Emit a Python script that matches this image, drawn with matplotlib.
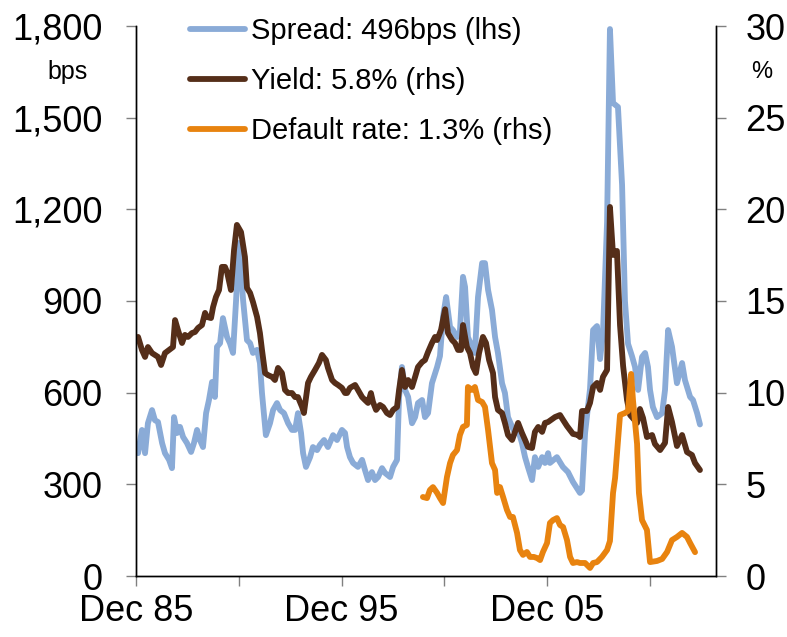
import numpy as np
import matplotlib
matplotlib.use("Agg")
import matplotlib.pyplot as plt
from matplotlib.ticker import FuncFormatter

plt.rcParams['font.family'] = ['Liberation Sans', 'DejaVu Sans']

# Spread (bps, left axis)
spread_year = [1986.02, 1986.21, 1986.36, 1986.50, 1986.70, 1986.84, 1986.99, 1987.19, 1987.33, 1987.53,
               1987.67, 1987.77, 1987.92, 1988.06, 1988.21, 1988.40, 1988.60, 1988.74, 1988.89, 1989.03,
               1989.18, 1989.33, 1989.47, 1989.62, 1989.76, 1989.86, 1990.01, 1990.15, 1990.35, 1990.49,
               1990.64, 1990.79, 1990.93, 1991.13, 1991.32, 1991.47, 1991.61, 1991.81, 1991.95, 1992.05,
               1992.24, 1992.44, 1992.59, 1992.78, 1992.93, 1993.12, 1993.32, 1993.51, 1993.66, 1993.80,
               1993.95, 1994.05, 1994.19, 1994.39, 1994.53, 1994.73, 1994.87, 1995.07, 1995.26, 1995.51,
               1995.70, 1995.94, 1996.09, 1996.19, 1996.33, 1996.48, 1996.72, 1996.92, 1997.06, 1997.21,
               1997.40, 1997.55, 1997.70, 1997.89, 1998.04, 1998.28, 1998.43, 1998.62, 1998.72, 1998.86,
               1999.01, 1999.16, 1999.35, 1999.50, 1999.64, 1999.84, 1999.98, 2000.13, 2000.32, 2000.57,
               2000.71, 2000.86, 2001.01, 2001.20, 2001.34, 2001.54, 2001.68, 2001.83, 2001.93, 2002.07,
               2002.27, 2002.41, 2002.56, 2002.76, 2002.90, 2003.05, 2003.24, 2003.39, 2003.53, 2003.73,
               2003.87, 2004.02, 2004.22, 2004.36, 2004.51, 2004.70, 2004.85, 2004.99, 2005.19, 2005.33,
               2005.49, 2005.68, 2005.82, 2005.97, 2006.06, 2006.40, 2006.69, 2006.94, 2007.18, 2007.52,
               2007.62, 2007.77, 2008.01, 2008.16, 2008.35, 2008.50, 2008.64, 2008.84, 2008.98, 2009.13,
               2009.37, 2009.57, 2009.71, 2009.86, 2010.05, 2010.20, 2010.35, 2010.54, 2010.69, 2010.83,
               2010.93, 2011.07, 2011.27, 2011.52, 2011.66, 2011.81, 2012.00, 2012.24, 2012.49, 2012.63,
               2012.88, 2013.02, 2013.22, 2013.36]
spread_bps = [402, 478, 402, 500, 543, 510, 504, 435, 402, 380,
              353, 520, 468, 488, 455, 435, 406, 435, 478, 445,
              422, 533, 576, 635, 586, 750, 762, 844, 782, 762,
              730, 903, 1090, 903, 772, 762, 730, 740, 697, 599,
              461, 500, 543, 566, 543, 533, 500, 478, 478, 533,
              468, 402, 357, 389, 422, 412, 429, 445, 422, 461,
              445, 478, 468, 422, 389, 370, 357, 380, 347, 314,
              340, 314, 324, 353, 337, 324, 357, 380, 586, 684,
              609, 586, 500, 520, 566, 576, 520, 533, 631, 684,
              720, 850, 913, 815, 805, 782, 800, 979, 946, 782,
              750, 730, 913, 1024, 1024, 936, 871, 782, 730, 631,
              599, 520, 488, 468, 478, 435, 389, 357, 314, 389,
              357, 389, 370, 402, 370, 389, 357, 340, 308, 272,
              280, 468, 612, 805, 818, 710, 795, 1158, 1790, 1548,
              1535, 1280, 900, 760, 720, 684, 609, 717, 730, 684,
              609, 553, 520, 533, 609, 805, 750, 631, 697, 641,
              586, 576, 533, 496]

# Yield (%, right axis)
yield_year = [1986.02, 1986.21, 1986.36, 1986.50, 1986.70, 1986.84, 1986.99, 1987.14, 1987.33, 1987.53,
              1987.72, 1987.82, 1987.96, 1988.16, 1988.30, 1988.45, 1988.64, 1988.79, 1988.94, 1989.13,
              1989.28, 1989.37, 1989.57, 1989.67, 1989.81, 1989.96, 1990.10, 1990.25, 1990.35, 1990.54,
              1990.69, 1990.83, 1991.03, 1991.22, 1991.32, 1991.47, 1991.61, 1991.81, 1991.95, 1992.05,
              1992.20, 1992.34, 1992.54, 1992.68, 1992.83, 1993.02, 1993.17, 1993.32, 1993.51, 1993.66,
              1993.80, 1994.00, 1994.09, 1994.29, 1994.43, 1994.63, 1994.82, 1994.97, 1995.16, 1995.26,
              1995.46, 1995.60, 1995.75, 1995.94, 1996.09, 1996.19, 1996.33, 1996.58, 1996.72, 1996.92,
              1997.06, 1997.21, 1997.35, 1997.45, 1997.60, 1997.79, 1997.94, 1998.13, 1998.28, 1998.43,
              1998.62, 1998.72, 1998.86, 1999.01, 1999.16, 1999.35, 1999.50, 1999.64, 1999.84, 1999.98,
              2000.13, 2000.32, 2000.47, 2000.57, 2000.76, 2000.96, 2001.10, 2001.30, 2001.44, 2001.59,
              2001.73, 2001.83, 2002.02, 2002.17, 2002.32, 2002.46, 2002.61, 2002.80, 2002.95, 2003.10,
              2003.29, 2003.39, 2003.53, 2003.73, 2003.87, 2004.02, 2004.22, 2004.36, 2004.51, 2004.70,
              2004.85, 2004.99, 2005.19, 2005.33, 2005.49, 2005.68, 2005.82, 2005.97, 2006.31, 2006.55,
              2006.70, 2006.89, 2007.18, 2007.43, 2007.52, 2007.62, 2007.86, 2008.01, 2008.16, 2008.35,
              2008.50, 2008.64, 2008.84, 2008.98, 2009.13, 2009.32, 2009.47, 2009.62, 2009.81, 2009.96,
              2010.30, 2010.44, 2010.59, 2010.78, 2011.03, 2011.17, 2011.42, 2011.66, 2011.81, 2012.00,
              2012.24, 2012.49, 2012.73, 2012.97, 2013.12, 2013.36]
yield_pct = [13.04, 12.33, 11.95, 12.49, 12.16, 12.06, 11.95, 11.51, 12.16, 12.33,
             12.49, 13.96, 13.42, 12.71, 13.15, 13.04, 13.25, 13.31, 13.53, 13.69,
             14.35, 14.13, 14.07, 14.67, 15.22, 15.60, 16.86, 16.86, 16.58, 15.60,
             17.78, 19.15, 18.76, 17.40, 15.71, 15.44, 14.95, 14.13, 13.25, 12.33,
             11.07, 10.96, 10.86, 10.69, 11.35, 11.07, 10.15, 9.98, 9.98, 9.76,
             9.76, 9.22, 8.89, 10.53, 10.86, 11.24, 11.62, 12.06, 11.78, 11.35,
             10.69, 10.53, 10.42, 10.26, 9.98, 9.98, 10.26, 10.42, 10.15, 9.76,
             9.60, 9.44, 9.98, 9.49, 9.06, 9.33, 9.22, 8.89, 8.78, 9.06,
             9.22, 10.15, 11.24, 10.31, 10.69, 10.31, 10.86, 11.40, 11.67, 11.78,
             12.22, 12.71, 13.04, 12.87, 13.42, 14.55, 13.25, 12.87, 12.71, 12.33,
             12.33, 13.69, 12.49, 12.16, 11.40, 11.07, 12.16, 13.04, 12.71, 11.78,
             11.07, 9.76, 9.06, 8.89, 8.35, 7.69, 7.42, 7.86, 8.35, 7.80,
             7.42, 7.04, 6.98, 7.86, 8.13, 7.86, 8.35, 8.40, 8.67, 8.78,
             8.51, 8.18, 7.75, 7.69, 7.58, 9.00, 9.00, 9.44, 10.31, 10.53,
             10.15, 10.86, 11.24, 20.13, 17.51, 17.73, 13.69, 11.46, 9.60, 8.78,
             8.35, 9.11, 8.62, 7.58, 7.69, 7.20, 6.87, 7.26, 9.22, 8.40,
             7.09, 7.69, 6.76, 6.60, 6.16, 5.78]

# Default rate (%, right axis)
default_year = [1999.88, 2000.08, 2000.22, 2000.37, 2000.57, 2000.71, 2000.86, 2001.05, 2001.20, 2001.34,
                2001.54, 2001.68, 2001.83, 2002.02, 2002.07, 2002.27, 2002.41, 2002.56, 2002.76, 2002.90,
                2003.05, 2003.24, 2003.39, 2003.49, 2003.63, 2003.78, 2003.97, 2004.12, 2004.26, 2004.46,
                2004.60, 2004.75, 2004.94, 2005.09, 2005.28, 2005.43, 2005.58, 2005.72, 2005.92, 2006.06,
                2006.21, 2006.40, 2006.55, 2006.70, 2006.89, 2007.04, 2007.18, 2007.38, 2007.52, 2007.77,
                2008.01, 2008.16, 2008.35, 2008.59, 2008.84, 2008.98, 2009.13, 2009.23, 2009.37, 2009.47,
                2009.71, 2009.86, 2010.01, 2010.10, 2010.30, 2010.39, 2010.54, 2010.78, 2010.93, 2011.27,
                2011.52, 2011.76, 2012.00, 2012.24, 2012.49, 2012.73, 2012.88, 2013.12]
default_pct = [4.31, 4.25, 4.69, 4.85, 4.53, 4.25, 3.98, 5.40, 6.16, 6.60,
               6.87, 7.69, 8.13, 8.24, 10.31, 10.15, 10.31, 9.60, 9.49, 9.22,
               7.96, 6.16, 5.78, 4.53, 4.85, 4.31, 3.60, 3.22, 3.22, 2.35,
               1.42, 1.15, 1.31, 1.04, 1.04, 0.98, 0.87, 1.31, 1.80, 2.89,
               3.05, 3.16, 2.78, 2.67, 1.96, 1.04, 0.71, 0.76, 0.71, 0.71,
               0.44, 0.71, 0.76, 1.04, 1.42, 1.91, 4.53, 5.35, 7.36, 8.78,
               8.89, 9.00, 11.02, 9.60, 7.20, 4.53, 3.05, 2.51, 0.76, 0.82,
               0.93, 1.31, 1.96, 2.13, 2.35, 2.13, 1.80, 1.30]

tick_years = [1985.92, 1990.92, 1995.92, 2000.92, 2005.92, 2010.92]
tick_labels = ['Dec 85', '', 'Dec 95', '', 'Dec 05', '']

c_spread = '#8AABD7'
c_yield = '#552E19'
c_default = '#E8830F'

fig = plt.figure(figsize=(7.87, 6.37), dpi=100)
ax = fig.add_axes([136/787, 1 - 576/637, 580/787, 550/637])
ax2 = ax.twinx()

lw = 4.2
l1, = ax.plot(spread_year, spread_bps, color=c_spread, lw=lw, solid_capstyle='round',
              solid_joinstyle='round', label='Spread: 496bps (lhs)')
l2, = ax2.plot(yield_year, yield_pct, color=c_yield, lw=lw, solid_capstyle='round',
               solid_joinstyle='round', label='Yield: 5.8% (rhs)')
l3, = ax2.plot(default_year, default_pct, color=c_default, lw=lw, solid_capstyle='round',
               solid_joinstyle='round', label='Default rate: 1.3% (rhs)')

ax.set_xlim(1985.92, 2014.14)
ax.set_ylim(0, 1800)
ax2.set_ylim(0, 30)
ax.set_yticks(np.arange(0, 1801, 300))
ax2.set_yticks(np.arange(0, 31, 5))
ax.yaxis.set_major_formatter(FuncFormatter(lambda v, p: f'{int(v):,}'))
ax.set_xticks(tick_years)
ax.set_xticklabels(tick_labels)

for a in (ax, ax2):
    a.spines['top'].set_visible(False)
    for s in ('left', 'right', 'bottom'):
        a.spines[s].set_color('black')
        a.spines[s].set_linewidth(1.0)
    a.tick_params(axis='both', direction='out', length=7.2, width=1.0, color='#808080',
                  labelsize=26)
ax.tick_params(axis='y', pad=17)
ax2.tick_params(axis='y', pad=14)
ax.tick_params(axis='x', pad=6)

fig.text(68/787, 1 - 72/637, 'bps', fontsize=18, ha='center', va='center')
fig.text(762/787, 1 - 72/637, '%', fontsize=17, ha='center', va='center')

ax2.legend(handles=[l1, l2, l3], loc='upper left', bbox_to_anchor=(190/787, 1 - 17/637),
           bbox_transform=fig.transFigure, frameon=False, fontsize=21, borderpad=0,
           borderaxespad=0, handlelength=1.9, handletextpad=0.2, labelspacing=0.75)

fig.savefig('out.png', dpi=100)
